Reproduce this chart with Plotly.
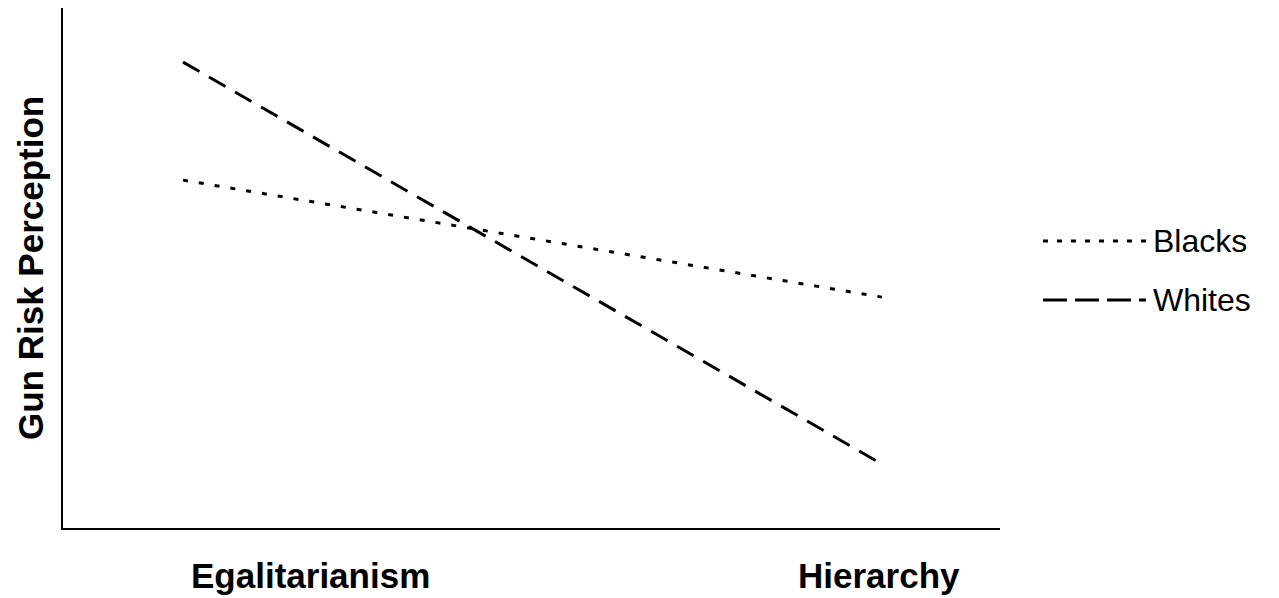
import plotly.graph_objects as go

# ---- data ----
groups = ["Blacks", "Whites"]
x_levels = [0, 1]
blacks = [6.69, 4.44]
whites = [8.96, 1.23]
x_labels = ["Egalitarianism", "Hierarchy"]
y_title = "Gun Risk Perception"

FONT = "Liberation Sans, Arial, sans-serif"
styles = {
    "Blacks": dict(color="black", width=3, dash="5px,11px"),
    "Whites": dict(color="black", width=3, dash="19px,11px"),
}

fig = go.Figure()
for name, vals in zip(groups, [blacks, whites]):
    fig.add_trace(go.Scatter(x=x_levels, y=vals, mode="lines", name=name,
                             line=styles[name], showlegend=False, hoverinfo="skip"))

# page offset (body margin) compensation
OFF = 8
W, H = 1279 - OFF, 598 - OFF
# plot area in page pixels: x 63..1000, y 8..528
L, T = 63 - OFF, 8 - OFF
R = W - (1000 - OFF)
B = H - (528 - OFF)
pw, ph = W - L - R, H - T - B

def px_x(p):
    return (p - OFF - L) / pw

def px_y(p):
    return (H - B - (p - OFF)) / ph

fig.update_layout(
    width=W, height=H,
    margin=dict(l=L, r=R, t=T, b=B),
    paper_bgcolor="white", plot_bgcolor="white",
    font=dict(family=FONT, color="black"),
    showlegend=False,
)
fig.update_xaxes(range=[-0.1717, 1.169], showgrid=False, zeroline=False,
                 showline=True, linecolor="black", linewidth=2,
                 showticklabels=False, ticks="")
fig.update_yaxes(range=[0, 10], showgrid=False, zeroline=False,
                 showline=True, linecolor="black", linewidth=2,
                 showticklabels=False, ticks="")

# category labels under the axis
label_pos = [0.182, 0.996]
for pos, txt in zip(label_pos, x_labels):
    fig.add_annotation(x=pos, xref="x", y=0, yref="paper", yanchor="top",
                       yshift=-26, text=f"<b>{txt}</b>", showarrow=False,
                       font=dict(size=35, family=FONT, color="black"))

# y-axis title
fig.add_annotation(x=0, xref="paper", xanchor="center", xshift=-33,
                   y=0.5, yref="paper", yanchor="middle",
                   text=f"<b>{y_title}</b>", textangle=-90, showarrow=False,
                   font=dict(size=35, family=FONT, color="black"))

# legend (drawn manually to get long line samples)
leg_y = [241, 300]
for name, py in zip(groups, leg_y):
    leg_dash = "5px,9px" if name == "Blacks" else "24px,8px"
    fig.add_shape(type="line", xref="paper", yref="paper",
                  x0=px_x(1043), x1=px_x(1146), y0=px_y(py), y1=px_y(py),
                  line=dict(color="black", width=3, dash=leg_dash))
    fig.add_annotation(x=px_x(1151), xref="paper", xanchor="left",
                       y=px_y(py), yref="paper", yanchor="middle",
                       text=name, showarrow=False,
                       font=dict(size=32, family=FONT, color="black"))

fig.write_html("out.html")
